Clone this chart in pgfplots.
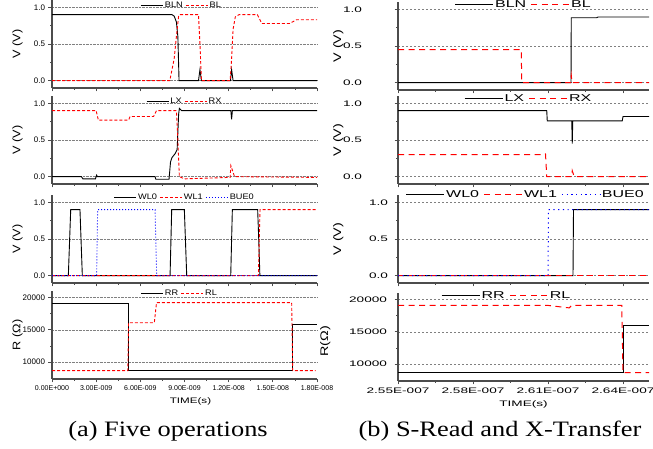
\documentclass[border=0pt]{standalone}
\usepackage{fontspec}
\setmainfont{Liberation Sans}
\newfontfamily\capfont[FakeStretch=1.2]{Liberation Serif}
\newfontfamily\wide[FakeStretch=1.7]{Liberation Sans}
\newfontfamily\legwide[FakeStretch=1.6]{Liberation Sans}
\newfontfamily\labwide[FakeStretch=1.3]{Liberation Sans}
\newfontfamily\narrow[FakeStretch=1.15]{Liberation Sans}
\newfontfamily\tfont[FakeStretch=1.45]{Liberation Sans}
\usepackage{pgfplots}
\pgfplotsset{compat=1.18}

\pgfplotsset{
  panel/.style={scale only axis, height=88pt,
    axis x line*=bottom, axis y line*=left,
    tick align=outside, major tick length=3.5pt, minor tick length=2pt,
    minor x tick num=1, minor y tick num=1, ymajorgrids,
    scaled y ticks=false,
    axis line style={line width=1.2pt, black!70},
    every tick/.style={black!70, line width=0.8pt},
    legend columns=-1, legend cell align=left,
    legend style={draw=none, fill=none, inner sep=0pt, at={(0.5,1)}, anchor=north,
      nodes={inner sep=1.5pt}}},
  lcol/.style={panel, width=265pt, xmin=0, xmax=18, xtick={0,3,...,18}, xticklabels={},
    grid style={gray, densely dotted, line width=0.6pt},
    yticklabel style={font=\fontsize{8}{9}\selectfont},
    xticklabel style={font=\fontsize{7}{8}\selectfont},
    ylabel style={font=\narrow\fontsize{11}{12}\selectfont, at={(axis description cs:-0.13,0.5)}, anchor=center},
    legend style={font=\narrow\fontsize{8}{9}\selectfont,
      /tikz/every even column/.append style={column sep=1pt}},
    legend image code/.code={\draw[##1] (0pt,0pt) -- (22pt,0pt);}},
  rcol/.style={panel, width=251pt, xmin=255, xmax=265.04, xtick={255,258,261,264}, xticklabels={},
    grid style={gray, dash pattern=on 2pt off 2pt, line width=0.5pt},
    yticklabel style={font=\wide\fontsize{8}{9}\selectfont},
    xticklabel style={font=\wide\fontsize{8}{9}\selectfont},
    ylabel style={font=\labwide\fontsize{11}{12}\selectfont, at={(axis description cs:-0.238,0.5)}, anchor=center},
    legend style={font=\legwide\fontsize{10}{11}\selectfont,
      /tikz/every even column/.append style={column sep=3pt}},
    legend image code/.code={\draw[##1] (0pt,0pt) -- (38pt,0pt);}},
  vpanel/.style={ymin=-0.1, ymax=1.1, ytick={0,0.5,1}, yticklabels={0.0,0.5,1.0}, ylabel={V (V)}},
  rpanel/.style={ymin=7400, ymax=21000, ytick={10000,15000,20000}, yticklabels={10000,15000,20000}, ylabel={R (\symbol{"03A9})}},
  blk/.style={black, line width=0.9pt},
  redl/.style={red, line width=0.9pt, dash pattern=on 3pt off 2pt},
  bluel/.style={blue, line width=0.9pt, dash pattern=on 1pt off 2pt},
  redr/.style={red, line width=1pt, dash pattern=on 6pt off 4.5pt},
  bluer/.style={blue, line width=1pt, dash pattern=on 1.2pt off 3.5pt},
}

\begin{document}
\begin{tikzpicture}
\path[use as bounding box] (0,0) rectangle (653pt,449pt);

% ---------------- left column: five operations ----------------
\begin{axis}[lcol, vpanel, at={(52pt,361pt)}, anchor=south west,
  legend style={xshift=-3pt}]
\addplot[blk] coordinates {(0,0.9) (8.15,0.9) (8.3,0.88) (8.45,0.8) (8.55,0.6) (8.63,0) (9.95,0) (10.05,0.15) (10.15,0) (12.12,0) (12.2,0.15) (12.3,0) (18,0)};
\addplot[redl] coordinates {(0,0) (8.0,0) (8.1,0.1) (8.3,0.3) (8.45,0.6) (8.6,0.88) (8.7,0.9) (9.95,0.9) (10.05,0.5) (10.15,0) (12.1,0) (12.2,0.3) (12.3,0.7) (12.45,0.87) (12.7,0.9) (13.95,0.9) (14.25,0.78) (16.15,0.78) (16.6,0.83) (18,0.83)};
\legend{BLN,BL}
\end{axis}

\begin{axis}[lcol, vpanel, at={(52pt,265pt)}, anchor=south west]
\addplot[blk] coordinates {(0,0) (2.0,0) (2.1,-0.03) (2.95,-0.03) (3.03,0.02) (3.08,0) (7.0,0) (7.05,-0.035) (7.95,-0.035) (8.05,0.2) (8.15,0.26) (8.35,0.31) (8.5,0.37) (8.6,0.85) (8.65,0.93) (8.8,0.9) (12.15,0.9) (12.2,0.78) (12.25,0.9) (18,0.9)};
\addplot[redl] coordinates {(0,0.9) (3.0,0.9) (3.15,0.77) (5.2,0.77) (5.3,0.82) (6.9,0.82) (7.1,0.9) (8.45,0.9) (8.55,0.5) (8.65,0) (9.0,-0.03) (12.1,-0.01) (12.15,0.15) (12.4,0) (18,-0.01)};
\legend{LX,RX}
\end{axis}

\begin{axis}[lcol, vpanel, at={(52pt,166pt)}, anchor=south west,
  legend style={yshift=3pt}]
\addplot[blk] coordinates {(0,0) (1.11,0) (1.27,0.9) (1.9,0.9) (2.06,0) (8.02,0) (8.13,0.9) (8.99,0.9) (9.15,0) (12.14,0) (12.25,0.9) (13.97,0.9) (14.05,0.45) (14.12,0) (18,0)};
\addplot[redl] coordinates {(0,0) (14.02,0) (14.13,0.9) (18,0.9)};
\addplot[bluel] coordinates {(0,0) (3.03,0) (3.1,0.9) (7.0,0.9) (7.11,0) (18,0)};
\legend{WL0,WL1,BUE0}
\end{axis}

\begin{axis}[lcol, rpanel, at={(52pt,70pt)}, anchor=south west,
  xticklabels={0.00E+000,3.00E-009,6.00E-009,9.00E-009,1.20E-008,1.50E-008,1.80E-008},
  xlabel={TIME(s)}, xlabel style={font=\tfont\fontsize{8}{9}\selectfont, xshift=6pt},
  legend style={xshift=-5pt, yshift=3pt}]
\addplot[blk] coordinates {(0,19100) (5.18,19100) (5.18,8700) (16.35,8700) (16.35,15900) (18,15900)};
\addplot[redl] coordinates {(0,8700) (5.15,8700) (5.2,16100) (6.95,16100) (7.1,19200) (16.28,19200) (16.35,8700) (17.9,8700)};
\legend{RR,RL}
\end{axis}

% ---------------- right column: S-Read and X-Transfer ----------------
\begin{axis}[rcol, vpanel, at={(398pt,359pt)}, anchor=south west,
  yticklabel style={xshift=-29pt}, legend style={yshift=3pt}]
\addplot[blk] coordinates {(255,0) (261.92,0) (261.93,0.885) (262.95,0.885) (263.0,0.895) (265.04,0.895)};
\addplot[redr] coordinates {(255,0.45) (259.93,0.45) (259.95,0) (261.9,0) (261.93,0.1) (261.96,0) (265.04,0)};
\legend{BLN,BL}
\end{axis}

\begin{axis}[rcol, vpanel, at={(398pt,265pt)}, anchor=south west,
  yticklabel style={xshift=-29pt}, legend style={xshift=5pt, yshift=3pt}]
\addplot[blk] coordinates {(255,0.9) (260.95,0.9) (260.97,0.76) (261.95,0.76) (261.97,0.45) (261.99,0.76) (263.97,0.76) (264.0,0.82) (265.04,0.82)};
\addplot[redr] coordinates {(255,0.3) (260.8,0.3) (260.9,0.31) (260.95,0) (261.95,0) (261.97,0.08) (262.05,0) (265.04,0)};
\legend{LX,RX}
\end{axis}

\begin{axis}[rcol, vpanel, at={(398pt,166pt)}, anchor=south west,
  yticklabel style={xshift=-3pt}, legend style={xshift=2pt, yshift=6pt}]
\addplot[blk] coordinates {(255,0) (262.0,0) (262.02,0.9) (265.04,0.9)};
\addplot[redr] coordinates {(255,0) (265.04,0)};
\addplot[bluer] coordinates {(255,0) (261.0,0) (261.02,0.9) (265.04,0.9)};
\legend{WL0,WL1,BUE0}
\end{axis}

\begin{axis}[rcol, rpanel, at={(398pt,68pt)}, anchor=south west,
  ylabel={R(\symbol{"03A9})},
  ylabel style={at={(axis description cs:-0.29,0.45)}},
  yticklabel style={xshift=-4pt},
  xticklabels={2.55E-007,2.58E-007,2.61E-007,2.64E-007},
  xlabel={TIME(s)}, xlabel style={font=\wide\fontsize{8}{9}\selectfont},
  legend style={xshift=-17pt, yshift=3pt}]
\addplot[blk] coordinates {(255,8700) (264.0,8700) (264.0,16000) (265.04,16000)};
\addplot[redr] coordinates {(255,19100) (260.95,19100) (261.85,18700) (261.95,19100) (263.95,19100) (264.0,8700) (265.04,8700)};
\legend{RR,RL}
\end{axis}

\node[font=\capfont\fontsize{22}{24}\selectfont, anchor=base] at (168pt,12pt) {(a) Five operations};
\node[font=\capfont\fontsize{22}{24}\selectfont, anchor=base] at (500pt,12pt) {(b) S-Read and X-Transfer};
\end{tikzpicture}
\end{document}
